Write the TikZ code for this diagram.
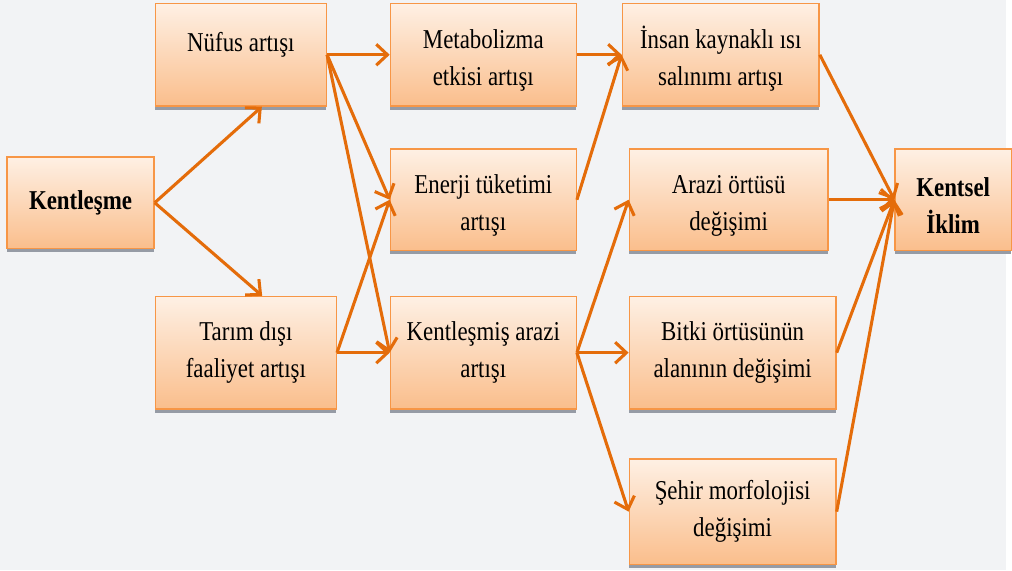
\documentclass[tikz,border=0pt]{standalone}
\usepackage{fontspec}
\setmainfont{Liberation Serif}[FakeStretch=0.84]
\usetikzlibrary{shapes,arrows.meta,positioning,shadows}
\definecolor{pageGrey}{RGB}{242,243,245}
\definecolor{boxTop}{RGB}{254,240,228}
\definecolor{boxBottom}{RGB}{250,190,140}
\definecolor{boxEdge}{RGB}{247,150,70}
\definecolor{shadowGrey}{RGB}{150,155,165}
\definecolor{arrowOrange}{RGB}{228,108,10}
\newcommand{\lift}{\rule{0pt}{22pt}}
\tikzstyle{factor} = [rectangle, draw=boxEdge, line width=1pt, 
    top color=boxTop, bottom color=boxBottom, align=center,
    font=\fontsize{19.5pt}{26.3pt}\selectfont,
    drop shadow={shadow xshift=0cm, shadow yshift=-0.1cm, fill=shadowGrey, opacity=1}]
\tikzstyle{endpoint} = [factor, font=\fontsize{19.5pt}{26.3pt}\selectfont\bfseries]
\tikzstyle{link} = [draw, -{Straight Barb[length=8pt,width=15pt]}, arrowOrange, line width=2.2pt]
\begin{document}
\begin{tikzpicture}[node distance=2cm, auto]
    \fill[pageGrey] (-2.025,5.1) rectangle (23.275,-9.25);

    \node[endpoint, minimum width=3.7cm, minimum height=2.3cm] (kentlesme) {Kentleşme};
    \node[factor, minimum width=4.3cm, minimum height=2.575cm, above right=1.25cm and 0cm of kentlesme] (nufus) {\lift Nüfus artışı\\\mbox{}};
    \node[factor, minimum width=4.55cm, minimum height=2.825cm, below right=1.175cm and 0cm of kentlesme] (tarim) {Tarım dışı\\faaliyet artışı};

    \node[factor, minimum width=4.675cm, minimum height=2.575cm, right=1.575cm of nufus] (metabolizma) {\lift Metabolizma\\etkisi artışı};
    \node[factor, minimum width=4.675cm, minimum height=2.55cm, below=1.05cm of metabolizma] (enerji) {\lift Enerji tüketimi\\artışı};
    \node[factor, minimum width=4.675cm, minimum height=2.825cm, below=1.125cm of enerji] (kentlesmis) {Kentleşmiş arazi\\artışı};

    \node[factor, minimum width=4.95cm, minimum height=2.575cm, right=1.125cm of metabolizma] (insan) {\lift İnsan kaynaklı ısı\\salınımı artışı};
    \node[factor, minimum width=5cm, minimum height=2.55cm, right=1.3cm of enerji] (arazi) {\lift Arazi örtüsü\\değişimi};
    \node[factor, minimum width=5.2cm, minimum height=2.825cm, right=1.3cm of kentlesmis] (bitki) {Bitki örtüsünün\\alanının değişimi};
    \node[factor, minimum width=5.2cm, minimum height=2.65cm, below=1.225cm of bitki] (sehir) {Şehir morfolojisi\\değişimi};

    \node[endpoint, minimum width=2.925cm, minimum height=2.55cm, right=1.65cm of arazi] (kentsel) {\lift Kentsel\\İklim};

    \path[link] (kentlesme.east) -- (nufus.-68);
    \path[link] (kentlesme.east) -- (tarim.74);

    \path[link] (nufus.east) -- (metabolizma.west);
    \path[link] (nufus.east) -- (enerji.west);
    \path[link] (nufus.east) -- (kentlesmis.west);
    \path[link] (tarim.east) -- (enerji.west);
    \path[link] (tarim.east) -- (kentlesmis.west);

    \path[link] (metabolizma.east) -- (insan.west);
    \path[link] (enerji.east) -- (insan.west);
    \path[link] (kentlesmis.east) -- (arazi.west);
    \path[link] (kentlesmis.east) -- (bitki.west);
    \path[link] (kentlesmis.east) -- (sehir.west);

    \path[link] (insan.east) -- (kentsel.west);
    \path[link] (arazi.east) -- (kentsel.west);
    \path[link] (bitki.east) -- (kentsel.west);
    \path[link] (sehir.east) -- (kentsel.west);
\end{tikzpicture}
\end{document}
